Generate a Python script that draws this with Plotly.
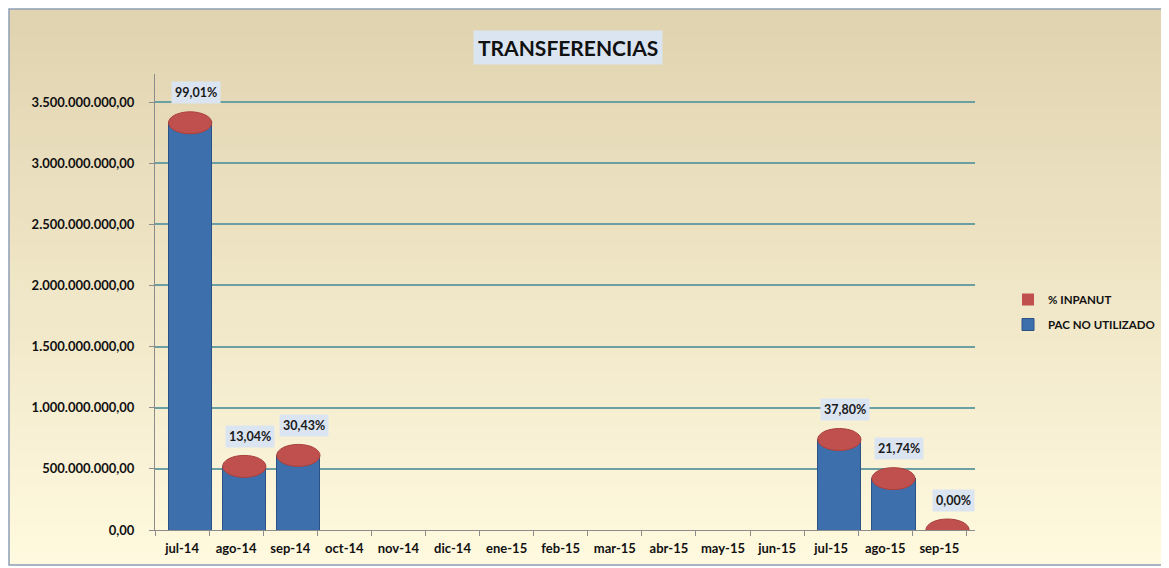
import plotly.graph_objects as go

# ---------------- data ----------------
categories = ["jul-14", "ago-14", "sep-14", "oct-14", "nov-14", "dic-14", "ene-15",
              "feb-15", "mar-15", "abr-15", "may-15", "jun-15", "jul-15", "ago-15", "sep-15"]
pac_no_utilizado = [3.33e9, 5.2e8, 6.1e8, None, None, None, None,
                    None, None, None, None, None, 7.4e8, 4.2e8, 0.0]
pct_inpanut = [0.9901, 0.1304, 0.3043, None, None, None, None,
               None, None, None, None, None, 0.3780, 0.2174, 0.0]
tick_values = [0, 5e8, 1e9, 1.5e9, 2e9, 2.5e9, 3e9, 3.5e9]

# ---------------- layout constants (page pixels; body has 8px margin) ----------------
OFF = 8
W, H = 1169 - OFF, 568 - OFF
PL, PR, PT, PB = 155 - OFF, 975 - OFF, 74 - OFF, 530 - OFF   # plot area in figure pixels
YMAX = 3.5e9 * (PB - PT) / 428.0
BLUE = "#3d6fad"
RED = "#c0504d"
FONT = "Lato"

def px_to_paper_x(px_page):
    return (px_page - OFF - PL) / (PR - PL)

def px_to_paper_y(py_page):
    return (PB - (py_page - OFF)) / (PB - PT)

units_per_px = YMAX / (PB - PT)
half_h = 11 * units_per_px
bar_w = 0.8
shift = 0.15   # pseudo-3D depth shift of the cylinders (category units)

fig = go.Figure()
fig.add_trace(go.Bar(
    x=categories, y=pac_no_utilizado, name="PAC NO UTILIZADO",
    marker=dict(color=BLUE, line=dict(color="#2b5283", width=1)),
    width=bar_w, offset=-bar_w / 2 + shift, legendgroup="b", legendrank=2,
))
fig.add_trace(go.Bar(
    x=categories, y=pct_inpanut, name="% INPANUT",
    marker=dict(color=RED, line=dict(width=0)),
    width=bar_w, offset=-bar_w / 2 + shift, legendgroup="a", legendrank=1,
))

shapes = []
# background gradient frame
top_c = (225, 212, 176)
bot_c = (255, 249, 223)
fx0, fx1 = px_to_paper_x(9), px_to_paper_x(1169)
fy_top, fy_bot = 9, 565
N = 40
for k in range(N):
    t = k / (N - 1)
    c = tuple(int(top_c[j] + (bot_c[j] - top_c[j]) * t) for j in range(3))
    y_a = fy_top + (fy_bot - fy_top) * k / N
    y_b = fy_top + (fy_bot - fy_top) * (k + 1) / N + 1
    shapes.append(dict(type="rect", xref="paper", yref="paper",
                       x0=fx0, x1=fx1, y0=px_to_paper_y(min(y_b, fy_bot)), y1=px_to_paper_y(y_a),
                       fillcolor="rgb(%d,%d,%d)" % c, line=dict(width=0), layer="below"))
shapes.append(dict(type="rect", xref="paper", yref="paper",
                   x0=fx0, x1=fx1, y0=px_to_paper_y(fy_bot), y1=px_to_paper_y(fy_top),
                   fillcolor="rgba(0,0,0,0)", line=dict(color="#8f9db5", width=1.5), layer="below"))

# cylinder tops and labels
annotations = []
for i, (v, p) in enumerate(zip(pac_no_utilizado, pct_inpanut)):
    if v is None:
        continue
    shapes.append(dict(type="circle", xref="x", yref="y",
                       x0=i - bar_w / 2 + shift, x1=i + bar_w / 2 + shift,
                       y0=v - half_h, y1=v + half_h,
                       fillcolor=RED, line=dict(color="#a8403d", width=1), layer="above"))
    label = ("%.2f%%" % (p * 100)).replace(".", ",")
    annotations.append(dict(x=i + shift, y=v, xref="x", yref="y", text=label, showarrow=False,
                            xanchor="center", yanchor="middle",
                            yshift=30, xshift=6, bgcolor="#dbe5f1",
                            font=dict(family=FONT, size=12.5, color="#1a1a1a", weight="bold"),
                            borderpad=3))

annotations.append(dict(x=px_to_paper_x(568), y=px_to_paper_y(47), xref="paper", yref="paper",
                        xanchor="center", yanchor="middle",
                        text="TRANSFERENCIAS", showarrow=False, bgcolor="#dbe5f1",
                        font=dict(family=FONT, size=21, color="#111111", weight="bold"),
                        borderpad=4))

fig.update_layout(
    width=W, height=H,
    margin=dict(l=PL, r=W - PR, t=PT, b=H - PB, pad=0, autoexpand=False),
    paper_bgcolor="white", plot_bgcolor="rgba(0,0,0,0)",
    barmode="stack", bargap=0.2,
    separators=",.",
    showlegend=True,
    legend=dict(x=px_to_paper_x(1008), y=px_to_paper_y(312), xanchor="left", yanchor="middle",
                bgcolor="rgba(0,0,0,0)", tracegroupgap=6, itemwidth=30,
                font=dict(family=FONT, size=11.5, color="#111111", weight="bold")),
    shapes=shapes, annotations=annotations,
    xaxis=dict(type="category", tickson="boundaries", ticks="outside", ticklen=5,
               tickcolor="#8c8c8c", showline=True, linecolor="#8c8c8c",
               ticklabelstandoff=6,
               showgrid=False, tickfont=dict(family=FONT, size=13, color="#111111", weight="bold")),
    yaxis=dict(range=[0, YMAX], tickvals=tick_values, tickformat=",.2f",
               showgrid=True, gridcolor="#6c9fa2", gridwidth=1.5, zeroline=False,
               showline=True, linecolor="#8c8c8c", ticks="outside", ticklen=5,
               tickcolor="#8c8c8c", ticklabelstandoff=12,
               tickfont=dict(family=FONT, size=13, color="#111111", weight="bold")),
)

fig.write_html("out.html")
